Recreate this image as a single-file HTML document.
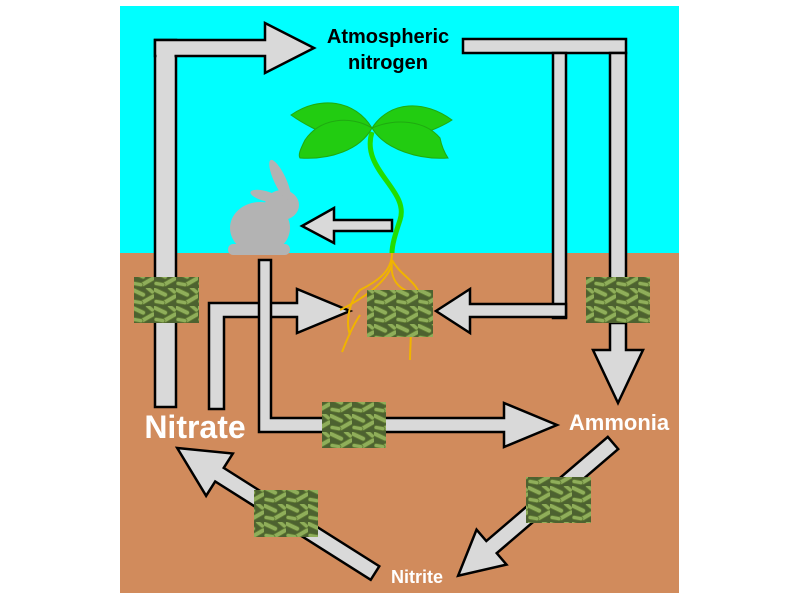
<!DOCTYPE html>
<html><head><meta charset="utf-8"><style>
html,body{margin:0;padding:0;background:#fff;}
svg{display:block;}
text{font-family:"Liberation Sans",Arial,sans-serif;font-weight:bold;}
</style></head><body>
<svg width="800" height="601" viewBox="0 0 800 601" xmlns="http://www.w3.org/2000/svg">
<defs>
<pattern id="bac" width="22" height="18" patternUnits="userSpaceOnUse">
<rect width="22" height="18" fill="#4d6230"/>
<g fill="#8fae5a" stroke="#5f7a33" stroke-width="0.8">
<rect x="-2" y="2" width="16" height="4.5" rx="2.2" transform="rotate(25 6 4)"/>
<rect x="8" y="9" width="16" height="4.5" rx="2.2" transform="rotate(-30 16 11)"/>
<rect x="0" y="12" width="11" height="4" rx="2" transform="rotate(10 5 14)"/>
<rect x="13" y="0" width="10" height="4" rx="2" transform="rotate(40 18 2)"/>
</g>
</pattern>
</defs>
<rect x="120" y="6" width="559" height="247" fill="#00ffff"/>
<rect x="120" y="253" width="559" height="340" fill="#d18b5c"/>

<g fill="#d9d9d9" stroke="#000" stroke-width="2.5" stroke-linejoin="miter">
<rect x="155" y="40" width="21" height="367"/>
<polygon points="155,40 265,40 265,23 314,48 265,73 265,56 155,56"/>
<rect x="156.5" y="54" width="18" height="6" stroke="none"/>
<rect x="463" y="39" width="163" height="14"/>
<rect x="553" y="53" width="13" height="265"/>
<rect x="610" y="53" width="16" height="250"/>
<polygon points="566,304 566,317 470,317 470,333 436,311 470,289 470,304"/>
<polygon points="610,323 626,323 626,350 643,350 618,403 593,350 610,350"/>
<polygon points="209,409 209,303 297,303 297,289 350,311 297,333 297,317 224,317 224,409"/>
<polygon points="259,260 271,260 271,418 504,418 504,403 557,425 504,447 504,432 259,432"/>
<polygon points="392,220 392,231 334,231 334,243 302,226 334,208 334,220"/>
<g transform="translate(613,443) rotate(139.4)">
<polygon points="0,-8 160,-8 160,-23 204,0 160,23 160,8 0,8"/>
</g>
<g transform="translate(375,573) rotate(212.3)">
<polygon points="0,-8 184,-8 184,-25 234,0 184,25 184,8 0,8"/>
</g>
</g>

<path d="M372,132 C360,170 410,190 400,220 C395,235 392,245 392,253" fill="none" stroke="#22dd00" stroke-width="5"/>
<g fill="#22cc11" stroke="#1faa10" stroke-width="1">
<path d="M372,128 C355,100 320,95 291,115 C305,125 320,132 330,135 C355,140 365,135 372,128Z"/>
<path d="M372,128 C350,115 320,118 305,140 C300,150 298,155 300,158 C330,160 360,150 372,128Z"/>
<path d="M372,128 C390,100 425,100 452,120 C440,128 420,135 410,137 C390,138 380,135 372,128Z"/>
<path d="M372,128 C395,118 425,120 440,138 C442,148 446,155 448,158 C420,160 385,150 372,128Z"/>
</g>
<g fill="none" stroke="#f0b400" stroke-width="2">
<path d="M392,253 C392,270 380,280 360,290 C350,300 345,320 350,335"/>
<path d="M392,260 C390,275 395,285 405,290 C415,300 410,340 410,360"/>
<path d="M392,260 C400,275 415,280 420,295"/>
<path d="M392,265 C385,285 360,300 340,310"/>
<path d="M360,315 C350,330 345,345 342,352"/>
</g>

<g fill="#b3b3b3">
<ellipse cx="260" cy="228" rx="30" ry="26"/>
<ellipse cx="282" cy="205" rx="17" ry="15"/>
<ellipse cx="280" cy="180" rx="6" ry="22" transform="rotate(-25 280 180)"/>
<ellipse cx="265" cy="196" rx="15" ry="5" transform="rotate(15 265 196)"/>
<rect x="228" y="244" width="62" height="11" rx="5"/>
</g>

<g fill="url(#bac)">
<rect x="134" y="277" width="65" height="46"/>
<rect x="586" y="277" width="64" height="46"/>
<rect x="367" y="290" width="66" height="47"/>
<rect x="322" y="402" width="64" height="46"/>
<rect x="526" y="477" width="65" height="46"/>
<rect x="254" y="490" width="64" height="47"/>
</g>

<text x="388" y="43" font-size="20" text-anchor="middle" fill="#000">Atmospheric</text>
<text x="388" y="69" font-size="20" text-anchor="middle" fill="#000">nitrogen</text>
<text x="195" y="438" font-size="32" text-anchor="middle" fill="#fff">Nitrate</text>
<text x="619" y="430" font-size="22" text-anchor="middle" fill="#fff">Ammonia</text>
<text x="417" y="583" font-size="18" text-anchor="middle" fill="#fff">Nitrite</text>
</svg>
</body></html>
